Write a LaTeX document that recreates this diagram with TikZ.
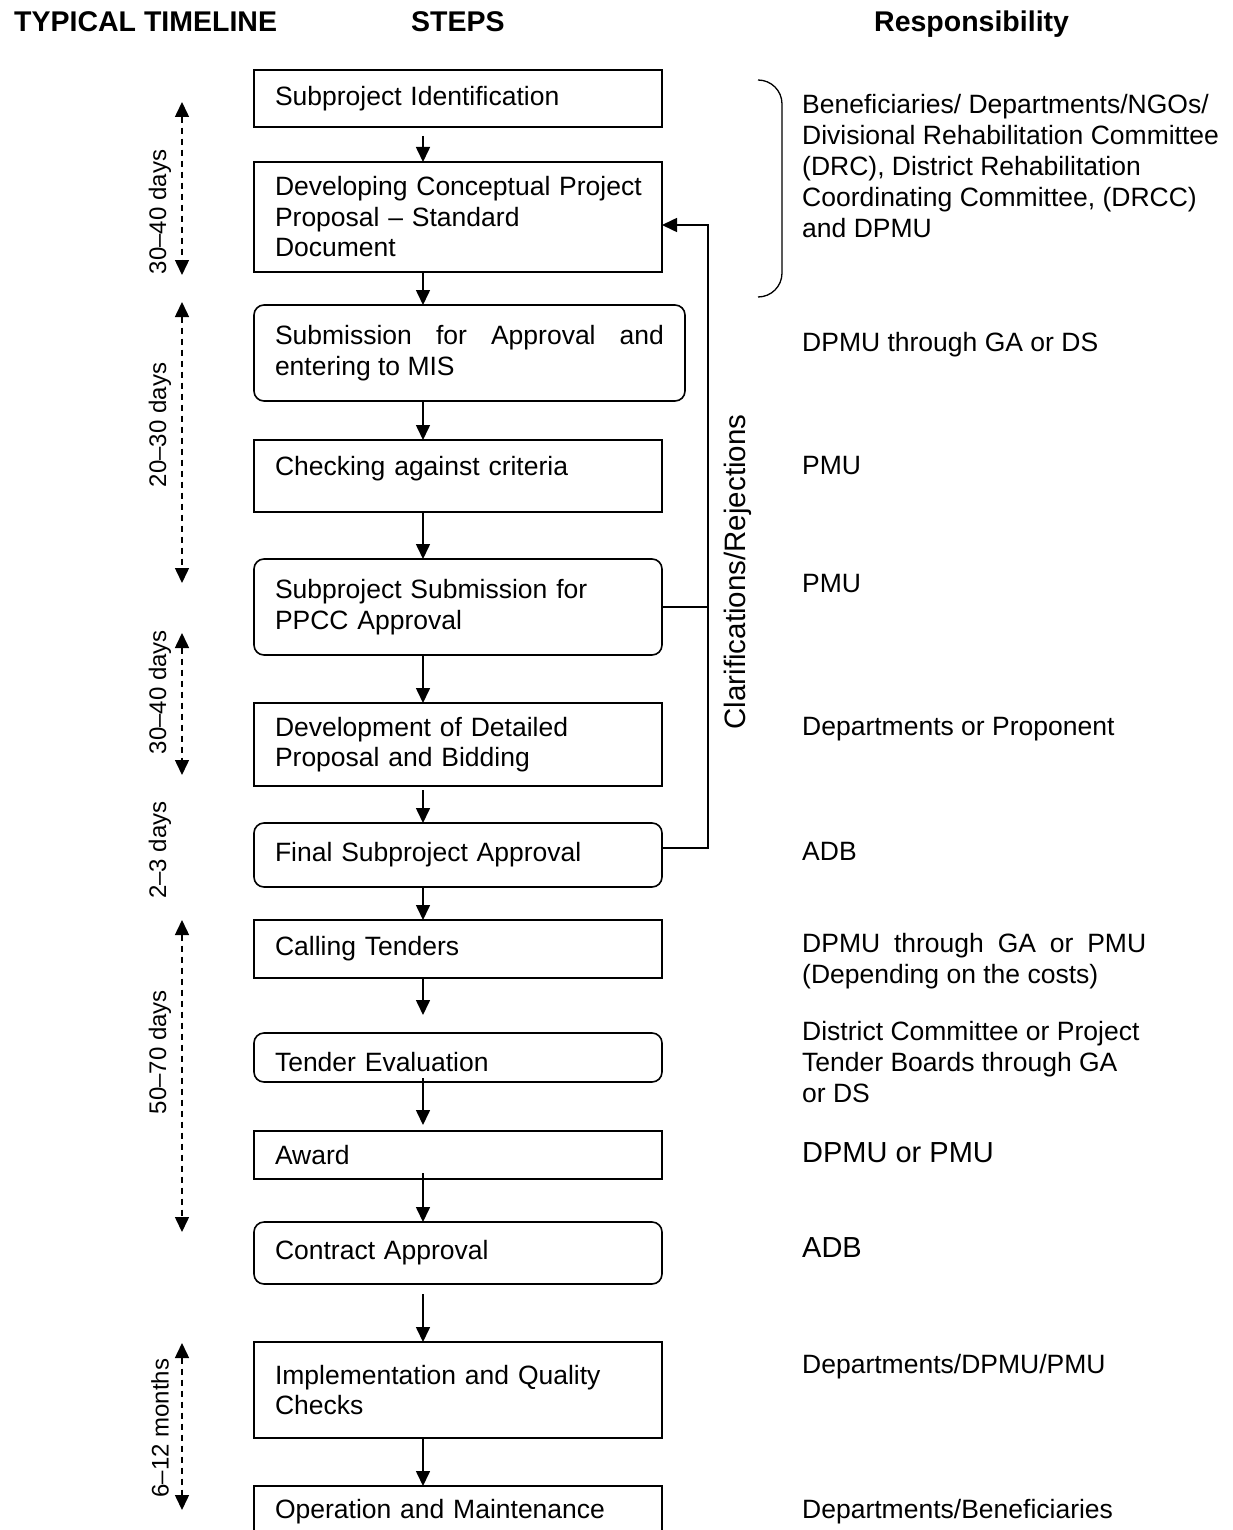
\documentclass[tikz,border=0pt]{standalone}
\usepackage{fontspec}
\setmainfont{Liberation Sans}
\usepackage{tikz}
\usetikzlibrary{arrows.meta, positioning}
\hyphenpenalty=10000
\tolerance=10000
\tikzstyle{process} = [rectangle, minimum width=408pt, text width=366pt, inner xsep=21pt, inner ysep=3pt, outer sep=0pt, align=left, draw=black, line width=1.6pt, font=\fontsize{26.5}{30.5}\selectfont]
\tikzstyle{roundprocess} = [process, rounded corners=10pt]
\tikzstyle{resp} = [anchor=west, align=left, inner sep=0pt, font=\fontsize{26.5}{31}\selectfont]
\tikzstyle{bigresp} = [resp, font=\fontsize{29}{33}\selectfont]
\tikzstyle{header} = [anchor=base west, inner sep=0pt, font=\bfseries\fontsize{28.5}{32}\selectfont]
\tikzstyle{timetext} = [rotate=90, inner sep=0pt, font=\fontsize{24}{28}\selectfont]
\tikzstyle{arrow} = [line width=1.6pt,->,>={Triangle[width=14pt,length=15pt]}]
\tikzstyle{dayline} = [line width=1.5pt, dash pattern=on 6pt off 5pt, <->, >={Triangle[width=14pt,length=15pt]}]
\tikzstyle{line} = [line width=1.6pt]

\begin{document}
\begin{tikzpicture}[x=1pt, y=-1pt, node distance=35pt]
        \useasboundingbox (0,0) rectangle (1233,1530);
        \clip (0,0) rectangle (1233,1530);

        % Judul kolom
        \node (headtime) [header] at (14,32) {TYPICAL TIMELINE};
        \node (headsteps) [header] at (411,32) {STEPS};
        \node (headresp) [header] at (874,32) {Responsibility};

        % Langkah-langkah
        \node (step1) [process, minimum height=57pt, anchor=north west] at (254,70) {Subproject Identification};
        \node (step2) [process, minimum height=110pt, below=35pt of step1.south west, anchor=north west] {\mbox{Developing Conceptual Project}\\Proposal -- Standard\\Document};
        \node (step3) [roundprocess, text width=389pt, align=justify, minimum height=96pt, below=33pt of step2.south west, anchor=north west] {Submission for Approval and entering to MIS};
        \node (step4) [process, minimum height=72pt, text depth=20pt, below=39pt of step3.south west, anchor=north west] {Checking against criteria};
        \node (step5) [roundprocess, minimum height=96pt, below=47pt of step4.south west, anchor=north west] {Subproject Submission for\\PPCC Approval};
        \node (step6) [process, minimum height=83pt, below=48pt of step5.south west, anchor=north west] {Development of Detailed\\Proposal and Bidding};
        \node (step7) [roundprocess, minimum height=64pt, below=37pt of step6.south west, anchor=north west] {Final Subproject Approval};
        \node (step8) [process, minimum height=58pt, below=33pt of step7.south west, anchor=north west] {Calling Tenders};
        \node (step9) [roundprocess, minimum height=49pt, text height=29pt, below=55pt of step8.south west, anchor=north west] {Tender Evaluation};
        \node (step10) [process, minimum height=48pt, below=49pt of step9.south west, anchor=north west] {Award};
        \node (step11) [roundprocess, minimum height=62pt, below=43pt of step10.south west, anchor=north west] {Contract Approval};
        \node (step12) [process, minimum height=96pt, below=58pt of step11.south west, anchor=north west] {Implementation and Quality\\Checks};
        \node (step13) [process, minimum height=52pt, below=48pt of step12.south west, anchor=north west] {Operation and Maintenance};

        % Garis Panah
        \coordinate (axis) at (423,0);
        \draw [arrow, shorten <=9pt] (step1.south -| axis) -- (step2.north -| axis);
        \draw [arrow] (step2.south -| axis) -- (step3.north -| axis);
        \draw [arrow] (step3.south -| axis) -- (step4.north -| axis);
        \draw [arrow] (step4.south -| axis) -- (step5.north -| axis);
        \draw [arrow] (step5.south -| axis) -- (step6.north -| axis);
        \draw [arrow, shorten <=4pt] (step6.south -| axis) -- (step7.north -| axis);
        \draw [arrow] (step7.south -| axis) -- (step8.north -| axis);
        \draw [arrow, shorten >=18pt] (step8.south -| axis) -- (step9.north -| axis);
        \draw [arrow, shorten <=-4pt, shorten >=6pt] (step9.south -| axis) -- (step10.north -| axis);
        \draw [arrow, shorten <=-6pt] (step10.south -| axis) -- (step11.north -| axis);
        \draw [arrow, shorten <=10pt] (step11.south -| axis) -- (step12.north -| axis);
        \draw [arrow] (step12.south -| axis) -- (step13.north -| axis);

        % Klarifikasi / penolakan
        \coordinate (clartop) at (708,225);
        \draw [arrow] ([yshift=7pt]step7.east) -| (clartop) -- (clartop -| step2.east);
        \draw [line] (step5.east) -- (step5.east -| clartop);
        \node (clarlabel) [rotate=90, inner sep=0pt, font=\fontsize{29.5}{34}\selectfont] at (738,572) {Clarifications/Rejections};

        % Kurung kurawal
        \draw [line width=1.3pt] (758,80) to[out=0,in=90] (782,104) -- (782,273) to[out=-90,in=0] (758,297);

        % Garis waktu
        \coordinate (t1top) at (182,102);
        \coordinate (t1bot) at (182,275);
        \draw [dayline] (t1top) -- (t1bot);
        \node (time1) [timetext] at (160,212) {30--40 days};
        \coordinate (t2top) at (182,302);
        \coordinate (t2bot) at (182,583);
        \draw [dayline] (t2top) -- (t2bot);
        \node (time2) [timetext] at (160,425) {20--30 days};
        \coordinate (t3top) at (182,633);
        \coordinate (t3bot) at (182,775);
        \draw [dayline] (t3top) -- (t3bot);
        \node (time3) [timetext] at (160,692) {30--40 days};
        \node (time4) [timetext] at (160,850) {2--3 days};
        \coordinate (t5top) at (182,920);
        \coordinate (t5bot) at (182,1232);
        \draw [dayline] (t5top) -- (t5bot);
        \node (time5) [timetext] at (160,1052) {50--70 days};
        \coordinate (t6top) at (182,1343);
        \coordinate (t6bot) at (182,1510);
        \draw [dayline] (t6top) -- (t6bot);
        \node (time6) [timetext] at (160,1428) {6--12 months};

        % Penanggung jawab
        \node (resp1) [resp] at (802,166) {Beneficiaries/ Departments/NGOs/\\Divisional Rehabilitation Committee\\(DRC), District Rehabilitation\\Coordinating Committee, (DRCC)\\and DPMU};
        \node (resp3) [resp] at (802,345) {DPMU through GA or DS};
        \node (resp4) [resp] at (802,466) {PMU};
        \node (resp5) [resp] at (802,584) {PMU};
        \node (resp6) [resp] at (802,729) {Departments or Proponent};
        \node (resp7) [resp] at (802,851) {ADB};
        \node (resp8) [resp, text width=344pt, align=justify] at (802,961) {DPMU through GA or PMU (Depending on the costs)};
        \node (resp9) [resp] at (802,1062) {District Committee or Project\\Tender Boards through GA\\or DS};
        \node (resp10) [bigresp] at (802,1153) {DPMU or PMU};
        \node (resp11) [bigresp] at (802,1248) {ADB};
        \node (resp12) [resp] at (802,1367) {Departments/DPMU/PMU};
        \node (resp13) [resp] at (802,1512) {Departments/Beneficiaries};
\end{tikzpicture}
\end{document}
